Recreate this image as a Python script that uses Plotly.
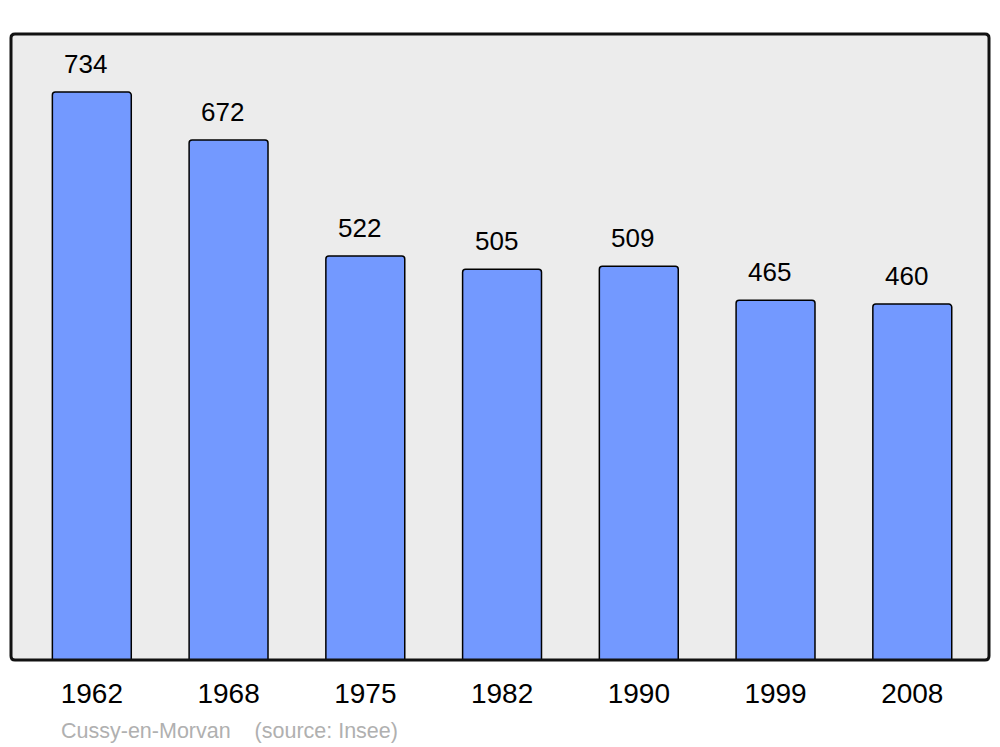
import plotly.graph_objects as go

years = ["1962", "1968", "1975", "1982", "1990", "1999", "2008"]
population = [734, 672, 522, 505, 509, 465, 460]
footer = "Cussy-en-Morvan    (source: Insee)"

# page has an 8px body margin; figure size compensates
OFF = 8
W, H = 1000 - OFF, 747 - OFF
L, T = 11 - OFF, 34 - OFF
R = W - (989 - OFF)
B = H - (660 - OFF)
pw, ph = W - L - R, H - T - B

idx = list(range(len(years)))

fig = go.Figure()
fig.add_trace(go.Bar(
    x=idx, y=population, width=0.577,
    marker=dict(color="#7399FF", line=dict(color="#000000", width=1.5), cornerradius=3),
    hoverinfo="skip",
))

for i, v in zip(idx, population):
    fig.add_annotation(x=i, y=v, text=str(v), showarrow=False, xshift=-6, yshift=28,
                       yanchor="middle", font=dict(size=26, color="#000000", family="Liberation Sans"))

fig.add_annotation(x=(59 - 11) / pw, y=(660 - 731) / ph, xref="paper", yref="paper",
                   text=footer, showarrow=False, xanchor="left", yanchor="middle",
                   font=dict(size=21.5, color="#B0B0B0", family="Liberation Sans"))

# rounded frame
rx, ry = 4 / pw, 4 / ph
path = (f"M {rx},0 L {1-rx},0 Q 1,0 1,{ry} L 1,{1-ry} Q 1,1 {1-rx},1 "
        f"L {rx},1 Q 0,1 0,{1-ry} L 0,{ry} Q 0,0 {rx},0 Z")
fig.add_shape(type="path", path=path, xref="paper", yref="paper",
              line=dict(color="#111111", width=3), layer="above")

fig.update_layout(
    width=W, height=H,
    margin=dict(l=L, r=R, t=T, b=B),
    paper_bgcolor="#FFFFFF", plot_bgcolor="#ECECEC",
    showlegend=False,
    font=dict(family="Liberation Sans", color="#000000"),
    xaxis=dict(range=[-0.591, 6.561], tickmode="array", tickvals=idx, ticktext=years,
               showgrid=False, zeroline=False, showline=False, ticks="",
               ticklabelstandoff=14,
               tickfont=dict(size=28, color="#000000"), fixedrange=True),
    yaxis=dict(range=[0, 809], showgrid=False, zeroline=False, showline=False,
               showticklabels=False, ticks="", fixedrange=True),
)

fig.write_html("out.html")
